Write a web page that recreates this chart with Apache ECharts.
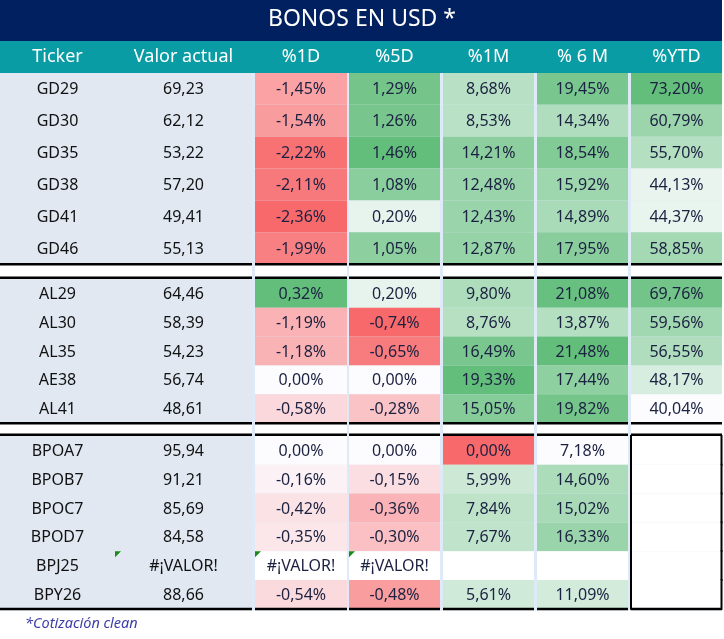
<!DOCTYPE html>
<html><head><meta charset="utf-8">
<script src="https://cdn.jsdelivr.net/npm/echarts@6/dist/echarts.min.js"></script>
<style>html,body{margin:0;padding:0;background:#fff}#c{width:724px;height:639px}</style>
</head><body><div id="c"></div>
<script>
// ---------- DATA ----------
const titleText = 'BONOS EN USD *';
const headers = ['Ticker', 'Valor actual', '%1D', '%5D', '%1M', '% 6 M', '%YTD'];
const groupSizes = [6, 5, 6];
const ERR = '#¡VALOR!';
const tickers = ['GD29','GD30','GD35','GD38','GD41','GD46','AL29','AL30','AL35','AE38','AL41','BPOA7','BPOB7','BPOC7','BPOD7','BPJ25','BPY26'];
const valorActual = [69.23,62.12,53.22,57.20,49.41,55.13,64.46,58.39,54.23,56.74,48.61,95.94,91.21,85.69,84.58,ERR,88.66];
const pct1D = [-1.45,-1.54,-2.22,-2.11,-2.36,-1.99,0.32,-1.19,-1.18,0.00,-0.58,0.00,-0.16,-0.42,-0.35,ERR,-0.54];
const pct5D = [1.29,1.26,1.46,1.08,0.20,1.05,0.20,-0.74,-0.65,0.00,-0.28,0.00,-0.15,-0.36,-0.30,ERR,-0.48];
const pct1M = [8.68,8.53,14.21,12.48,12.43,12.87,9.80,8.76,16.49,19.33,15.05,0.00,5.99,7.84,7.67,null,5.61];
const pct6M = [19.45,14.34,18.54,15.92,14.89,17.95,21.08,13.87,21.48,17.44,19.82,7.18,14.60,15.02,16.33,null,11.09];
const pctYTD = [73.20,60.79,55.70,44.13,44.37,58.85,69.76,59.56,56.55,48.17,40.04,null,null,null,null,null,null];
const footnote = '*Cotización clean';

// ---------- LAYOUT / STYLE ----------
const W = 724, H = 639;
const colEdges = [[0,115],[115,252],[255,347],[349,440],[443,534],[537,628],[631,722]];
const titleBand = [0, 41], headerBand = [41, 73];
const groupTop = [73, 279, 436];
const groupRowH = [31.85, 28.8, 28.8];
const bodyBottom = 609;
const FONT = '"Noto Sans", "Open Sans", sans-serif';
const C = {
  title: '#002060', header: '#0A9CA4', left: '#E1E8F2', gap: '#DEEAF7',
  red: [248,105,107], white: [252,252,255], green: [99,190,123],
  txt: '#1B2140', tick: '#111111', foot: '#3D3DA8', tri: '#178A17'
};

const pctCols = [pct1D, pct5D, pct1M, pct6M, pctYTD];
const scaleKind = ['3c', '3c', '3c', '2c', '2c'];

function mix(a, b, t) {
  t = Math.max(0, Math.min(1, t));
  return 'rgb(' + a.map((v, i) => Math.round(v + (b[i] - v) * t)).join(',') + ')';
}
const stats = pctCols.map(arr => {
  const nums = arr.filter(v => typeof v === 'number');
  return { min: Math.min(...nums), max: Math.max(...nums) };
});
function cellColor(ci, v) {
  if (typeof v !== 'number') return '#FFFFFF';
  const { min, max } = stats[ci];
  if (scaleKind[ci] === '3c') {
    if (v <= min) return mix(C.red, C.red, 0);
    if (v < 0) return mix(C.white, C.red, v / min);
    return mix(C.white, C.green, max > 0 ? v / max : 0);
  }
  return mix(C.white, C.green, (v - min) / (max - min));
}
const fmt2 = v => v.toFixed(2).replace('.', ',');

// row geometry
const rows = [];
let r = 0;
groupSizes.forEach((n, g) => { for (let i = 0; i < n; i++) rows.push({ g, i, n, idx: r++ }); });
function rowY(ri) {
  const o = rows[ri];
  const y0 = groupTop[o.g] + o.i * groupRowH[o.g];
  return [y0, y0 + groupRowH[o.g]];
}

// cell list
const cellList = [];
cellList.push({ kind: 'bg' });
cellList.push({ kind: 'title' });
headers.forEach((h, c) => cellList.push({ kind: 'head', col: c }));
rows.forEach((o, ri) => {
  for (let c = 0; c < 7; c++) cellList.push({ kind: 'cell', col: c, row: ri });
});
cellList.push({ kind: 'foot' });

function textEl(x, y, text, size, fill, extra) {
  return { type: 'text', style: Object.assign({ x, y, text, fontSize: size, fontFamily: FONT, fill, align: 'center', verticalAlign: 'middle' }, extra || {}) };
}
function rectEl(p0, p1, fill) {
  return { type: 'rect', shape: { x: p0[0], y: p0[1], width: p1[0] - p0[0], height: p1[1] - p0[1] }, style: { fill } };
}

function renderItem(params, api) {
  const it = cellList[params.dataIndex];
  const P = (x, y) => api.coord([x, y]);
  const kids = [];
  if (it.kind === 'bg') {
    kids.push(rectEl(P(0, headerBand[1]), P(colEdges[6][1], bodyBottom + 1.5), C.gap));
  } else if (it.kind === 'title') {
    kids.push(rectEl(P(0, titleBand[0]), P(colEdges[6][1], titleBand[1]), C.title));
    const p = P(W / 2, (titleBand[0] + titleBand[1]) / 2 - 1);
    kids.push(textEl(p[0], p[1], titleText, 23, '#FFFFFF'));
  } else if (it.kind === 'head') {
    const [x0, x1] = it.col === 0 ? [0, colEdges[0][1]] : [colEdges[it.col][0] - (it.col > 1 ? 3 : 0), colEdges[it.col][1]];
    kids.push(rectEl(P(x0, headerBand[0]), P(it.col === 6 ? colEdges[6][1] : x1 + 3, headerBand[1]), C.header));
    const [a, b] = colEdges[it.col];
    const p = P((a + b) / 2, (headerBand[0] + headerBand[1]) / 2);
    kids.push(textEl(p[0], p[1], headers[it.col], 18, '#FFFFFF'));
  } else if (it.kind === 'cell') {
    const o = rows[it.row];
    const [x0, x1] = colEdges[it.col];
    const [y0, y1] = rowY(it.row);
    let fill, text, tc = C.txt;
    if (it.col === 0) { fill = C.left; text = tickers[it.row]; tc = C.tick; }
    else if (it.col === 1) {
      fill = C.left; const v = valorActual[it.row];
      text = typeof v === 'number' ? fmt2(v) : v; tc = C.tick;
    } else {
      const ci = it.col - 2; const v = pctCols[ci][it.row];
      fill = cellColor(ci, v);
      text = typeof v === 'number' ? fmt2(v) + '%' : (v || '');
    }
    kids.push(rectEl(P(x0, y0), P(x1, y1), fill));
    if (text) {
      const p = P((x0 + x1) / 2, (y0 + y1) / 2 + 1);
      kids.push(textEl(p[0], p[1], text, 16, tc));
    }
    // error triangle
    let raw = it.col === 1 ? valorActual[it.row] : (it.col >= 2 ? pctCols[it.col - 2][it.row] : null);
    if (raw === ERR) {
      const a = P(x0, y0), b = P(x0 + 6, y0), c = P(x0, y0 + 6);
      kids.push({ type: 'polygon', shape: { points: [a, b, c] }, style: { fill: C.tri } });
    }
    // separators
    if (o.i === o.n - 1) {
      if (o.g < groupSizes.length - 1) {
        kids.push(rectEl(P(x0, y1), P(x1, groupTop[o.g + 1]), '#FFFFFF'));
      }
      kids.push(rectEl(P(x0, y1 - 1), P(x1, y1 + 1.5), '#000000'));
    }
    if (o.i === 0 && o.g > 0) {
      kids.push(rectEl(P(x0, y0 - 2.5), P(x1, y0), '#000000'));
    }
    // boxed empty YTD block in last group
    if (it.col === 6 && o.g === groupSizes.length - 1) {
      kids.push(rectEl(P(x0 - 1, y0 - 1), P(x0 + 1, y1 + 1), '#000000'));
      kids.push(rectEl(P(x1 - 1.5, y0 - 1), P(x1 + 0.5, y1 + 1), '#000000'));
    }
  } else if (it.kind === 'foot') {
    const p = P(25, bodyBottom + 15);
    kids.push(textEl(p[0], p[1], footnote, 14.5, C.foot, { align: 'left', fontStyle: 'italic' }));
  }
  return { type: 'group', children: kids };
}

const chart = echarts.init(document.getElementById('c'), null, { renderer: 'canvas' });
chart.setOption({
  backgroundColor: '#FFFFFF',
  animation: false,
  grid: { left: 0, right: 0, top: 0, bottom: 0 },
  xAxis: { type: 'value', min: 0, max: W, show: false },
  yAxis: { type: 'value', min: 0, max: H, inverse: true, show: false },
  series: [{
    type: 'custom',
    renderItem,
    clip: false,
    data: cellList.map((c, i) => [i, 0]),
    encode: { x: 0, y: 1 },
    silent: true
  }]
});
</script>
</body></html>
